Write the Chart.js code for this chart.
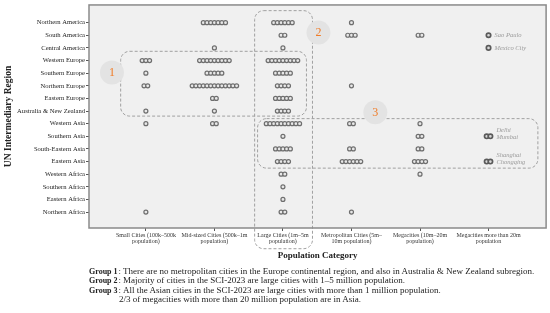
<!DOCTYPE html>
<html><head><meta charset="utf-8">
<script src="https://cdn.jsdelivr.net/npm/chart.js@4/dist/chart.umd.min.js"></script>
<style>
html,body{margin:0;padding:0;background:#fff;}
#wrap{position:relative;width:550px;height:313px;overflow:hidden;}
canvas{position:absolute;left:0;top:0;}
#notes{position:absolute;left:89px;top:267px;font-family:"Liberation Serif",serif;font-size:9px;line-height:9.3px;color:#222;}
.row{white-space:nowrap;}
.lab{font-size:8px;font-weight:bold;}
.col{margin:0 2px 0 1px;}
.ind{display:inline-block;width:30px;}
</style></head><body>
<div id="wrap"><canvas id="c" width="550" height="313"></canvas>
<div id="notes">
<div class="row"><span class="lab">Group 1</span><span class="col">:</span>There are no metropolitan cities in the Europe continental region, and also in Australia &amp; New Zealand subregion.</div>
<div class="row"><span class="lab">Group 2</span><span class="col">:</span>Majority of cities in the SCI-2023 are large cities with 1–5 million population.</div>
<div class="row"><span class="lab">Group 3</span><span class="col">:</span>All the Asian cities in the SCI-2023 are large cities with more than 1 million population.</div>
<div class="row"><span class="ind"></span>2/3 of megacities with more than 20 million population are in Asia.</div>
</div></div>
<script>
const regions = ["Northern America","South America","Central America","Western Europe","Southern Europe","Northern Europe","Eastern Europe","Australia & New Zealand","Western Asia","Southern Asia","South-Eastern Asia","Eastern Asia","Western Africa","Southern Africa","Eastern Africa","Northern Africa"];
const categories = [["Small Cities (100k–500k","population)"],["Mid-sized Cities (500k–1m","population)"],["Large Cities (1m–5m","population)"],["Metropolitan Cities (5m–","10m population)"],["Megacities (10m–20m","population)"],["Megacities more than 20m","population"]];
// number of cities per region (same order as regions)
const smallCities  = [0,0,0,3,1,2,0,1,1,0,0,0,0,0,0,1];
const midCities    = [7,0,1,9,5,13,2,1,2,0,0,0,0,0,0,0];
const largeCities  = [6,2,1,9,5,4,5,4,10,1,5,4,2,1,1,2];
const metroCities  = [1,3,0,0,0,1,0,0,2,0,2,6,0,0,0,1];
const megaCities   = [0,2,0,0,0,0,0,0,1,2,2,4,1,0,0,0];
const mega20Cities = [0,1,1,0,0,0,0,0,0,2,0,2,0,0,0,0];
const mega20Names  = {1:["Sao Paulo"],2:["Mexico City"],9:["Delhi","Mumbai"],11:["Shanghai","Chongqing"]};
const groupLabels = ["1","2","3"];

const DOT = 0.054; // spacing between stacked dots, in category units
function dots(cols, colIdx) {
  const out = [];
  cols.forEach((arr, k) => {
    arr.forEach((n, r) => {
      for (let i = 0; i < n; i++) out.push({x: colIdx[k] + (i - (n - 1) / 2) * DOT, y: r});
    });
  });
  return out;
}
const regular = dots([smallCities, midCities, largeCities, metroCities, megaCities], [0,1,2,3,4]);
const big = dots([mega20Cities], [5]);

// annotation shapes (in data units)
const boxes = [
  {x0:-0.368, x1:2.343, y0:2.27, y1:7.40},
  {x0:1.587, x1:2.431, y0:-0.95, y1:17.9},
  {x0:1.63, x1:5.72, y0:7.6, y1:11.52}
];
const badges = [{x:-0.495,y:3.95},{x:2.518,y:0.79},{x:3.348,y:7.1}];

function rr(ctx,x0,y0,x1,y1,r){
  ctx.beginPath();
  ctx.moveTo(x0+r,y0);ctx.lineTo(x1-r,y0);ctx.arcTo(x1,y0,x1,y0+r,r);
  ctx.lineTo(x1,y1-r);ctx.arcTo(x1,y1,x1-r,y1,r);
  ctx.lineTo(x0+r,y1);ctx.arcTo(x0,y1,x0,y1-r,r);
  ctx.lineTo(x0,y0+r);ctx.arcTo(x0,y0,x0+r,y0,r);ctx.closePath();
}

const deco = {
  id:'deco',
  beforeDraw(chart){
    const {ctx, chartArea:a} = chart;
    ctx.save();ctx.fillStyle='#f0f0f0';ctx.fillRect(a.left,a.top,a.right-a.left,a.bottom-a.top);ctx.restore();
  },
  beforeDatasetsDraw(chart){
    const {ctx, scales:{x,y}} = chart;
    ctx.save();
    ctx.setLineDash([3,2]);ctx.strokeStyle='#a0a0a0';ctx.lineWidth=1;
    boxes.forEach(b=>{rr(ctx,x.getPixelForValue(b.x0),y.getPixelForValue(b.y0),x.getPixelForValue(b.x1),y.getPixelForValue(b.y1),9);ctx.stroke();});
    ctx.setLineDash([]);
    badges.forEach((b,i)=>{
      const px=x.getPixelForValue(b.x),py=y.getPixelForValue(b.y);
      ctx.fillStyle='#e3e3e3';ctx.beginPath();ctx.arc(px,py,12,0,Math.PI*2);ctx.fill();
      ctx.fillStyle='#f07b26';ctx.font='12px "Liberation Serif", serif';ctx.textAlign='center';ctx.textBaseline='middle';
      ctx.fillText(groupLabels[i],px,py+0.5);
    });
    ctx.restore();
  },
  afterDraw(chart){
    const {ctx, chartArea:a, scales:{x,y}} = chart;
    ctx.save();
    ctx.strokeStyle='#8a8a8a';ctx.lineWidth=1.5;ctx.strokeRect(a.left,a.top,a.right-a.left,a.bottom-a.top);
    ctx.fillStyle='#9a9a9a';ctx.font='italic 6.5px "Liberation Serif", serif';ctx.textAlign='left';ctx.textBaseline='middle';
    Object.keys(mega20Names).forEach(k=>{
      const r=+k, n=mega20Cities[r], names=mega20Names[k];
      const px=x.getPixelForValue(5+((n-1)/2)*DOT)+6, py=y.getPixelForValue(r);
      if(names.length===1) ctx.fillText(names[0],px,py);
      else {ctx.fillText(names[0],px,py-6.5);ctx.fillText(names[1],px,py+0.5);}
    });
    ctx.restore();
  }
};

Chart.defaults.font.family='"Liberation Serif", serif';
new Chart(document.getElementById('c'),{
  type:'scatter',
  data:{datasets:[
    {label:'Cities',data:regular,pointRadius:2,pointBorderWidth:1.2,pointBorderColor:'#6e6e6e',pointBackgroundColor:'#e8e8e8',pointHoverRadius:2},
    {label:'Megacities >20m',data:big,pointRadius:2.2,pointBorderWidth:1.7,pointBorderColor:'#5a5a5a',pointBackgroundColor:'#d8d8d8',pointHoverRadius:2.2}
  ]},
  options:{
    responsive:false,animation:false,devicePixelRatio:1,
    layout:{padding:{top:4,right:3,left:0,bottom:48}},
    plugins:{legend:{display:false},tooltip:{enabled:false}},
    scales:{
      x:{type:'linear',min:-0.83,max:5.84,
        afterBuildTicks(s){s.ticks=categories.map((_,i)=>({value:i}));},
        afterFit(s){s.height=37;},
        ticks:{callback:(v)=>categories[v],font:{size:6,lineHeight:1.0},color:'#333',padding:1,maxRotation:0,autoSkip:false},
        grid:{drawOnChartArea:false,drawTicks:true,tickLength:3,color:'#555'},
        border:{display:false},
        title:{display:true,text:'Population Category',font:{size:9,weight:'bold'},color:'#222',padding:{top:2,bottom:4}}
      },
      y:{type:'linear',reverse:true,min:-1.4,max:16.26,
        afterBuildTicks(s){s.ticks=regions.map((_,i)=>({value:i}));},
        afterFit(s){s.width=89;},
        ticks:{callback:(v)=>regions[v],font:{size:6.6},color:'#222',padding:1,autoSkip:false},
        grid:{drawOnChartArea:false,drawTicks:true,tickLength:3,color:'#555'},
        border:{display:false},
        title:{display:true,text:'UN Intermediary Region',font:{size:9.5,weight:'bold'},color:'#222',padding:{top:3,bottom:2}}
      }
    }
  },
  plugins:[deco]
});
</script>
</body></html>
